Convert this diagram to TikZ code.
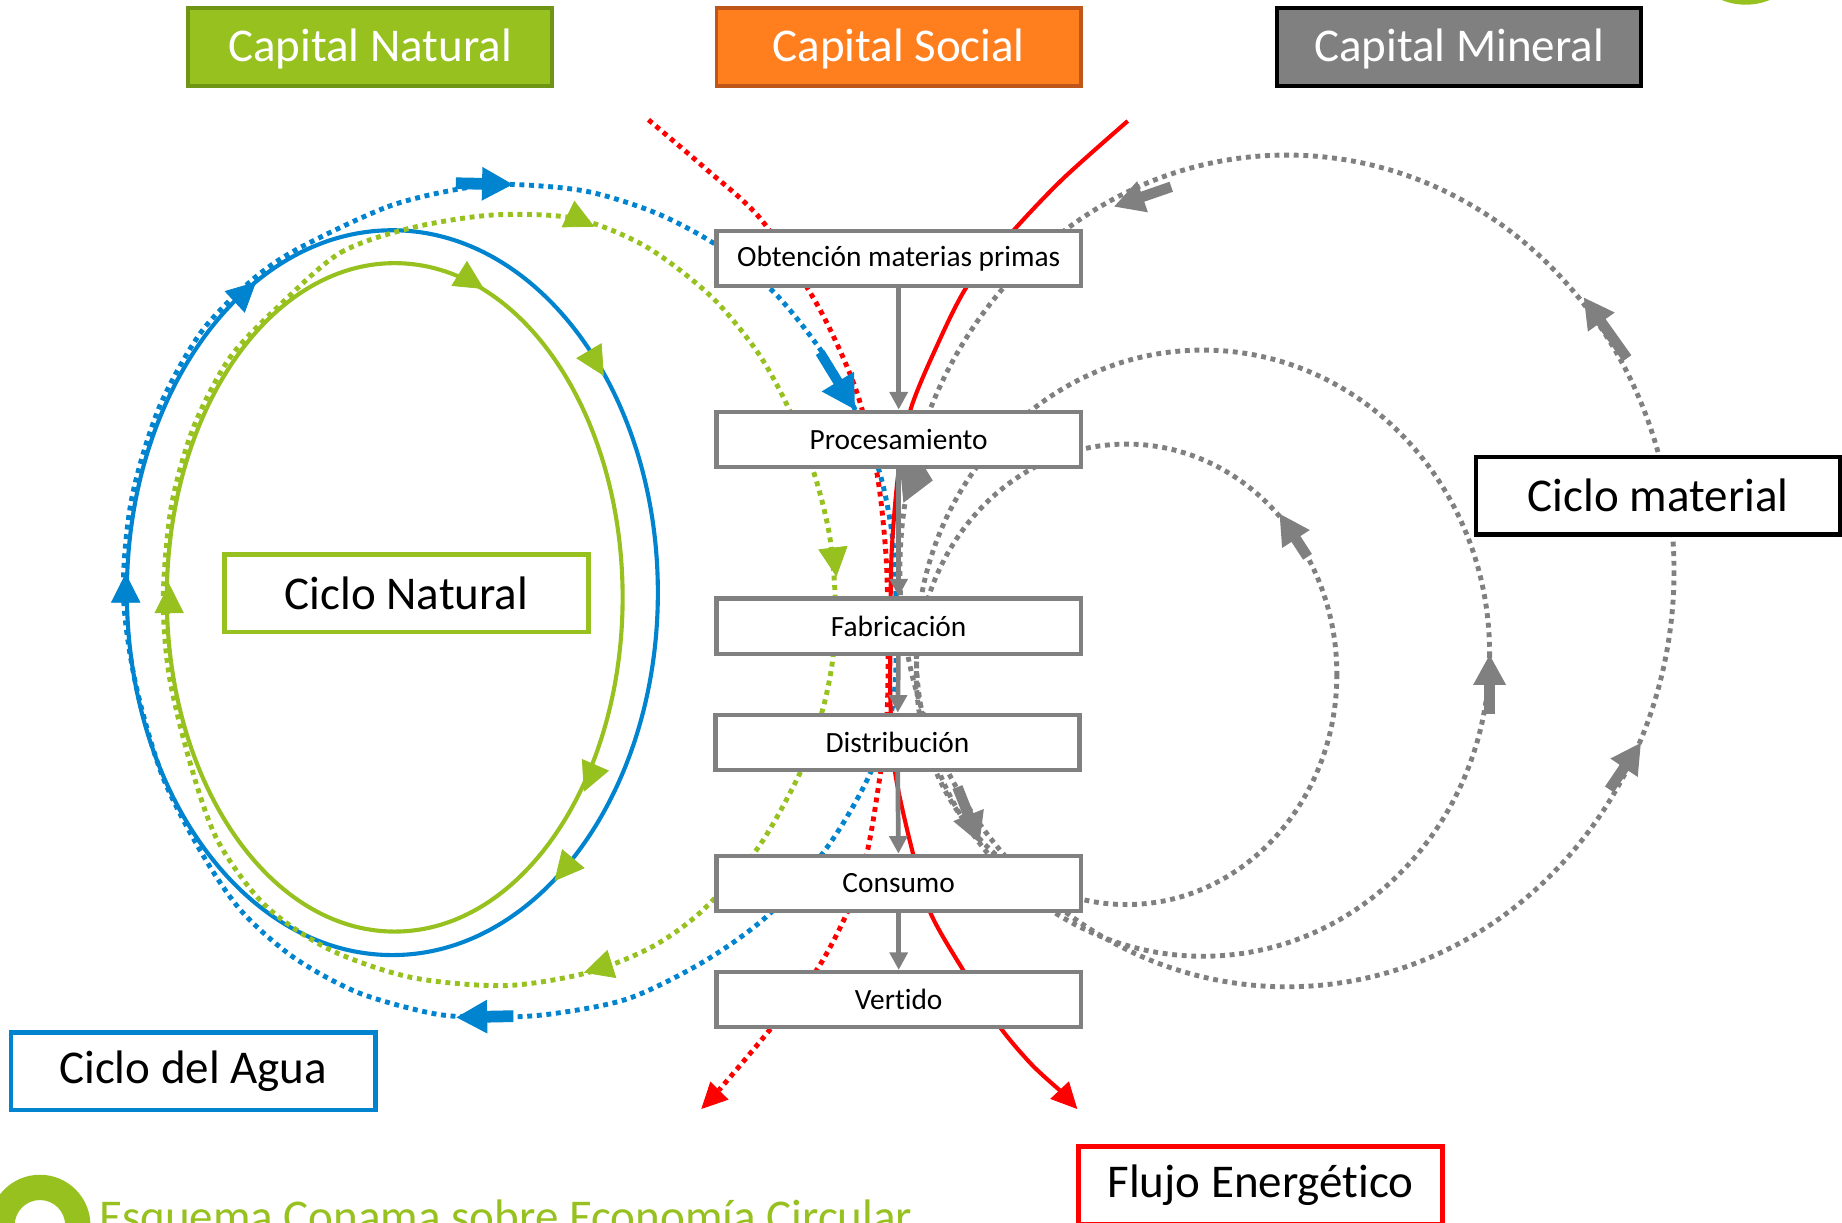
\documentclass[tikz,border=0pt]{standalone}
\usepackage{fontspec}
\setmainfont{Carlito}[Ligatures={NoCommon,NoRare}]
\usetikzlibrary{arrows.meta}
\definecolor{verdenat}{RGB}{150,193,31}
\definecolor{verdeborde}{RGB}{110,150,20}
\definecolor{naranja}{RGB}{255,126,30}
\definecolor{naranjaborde}{RGB}{190,85,25}
\definecolor{gris}{RGB}{128,128,128}
\definecolor{azul}{RGB}{0,132,207}
\definecolor{rojo}{RGB}{255,0,0}

\begin{document}
\begin{tikzpicture}[x=0.6pt,y=-0.6pt,
    caja/.style={draw=gris,line width=2.2pt,fill=white,minimum width=186pt,minimum height=28.2pt,inner sep=0pt,font=\fontsize{15}{18}\selectfont},
    titulo/.style={line width=1.8pt,minimum width=186pt,minimum height=39.6pt,inner sep=0pt,text depth=1.5pt,text=white,font=\fontsize{24}{28}\selectfont},
    ciclo/.style={line width=2.3pt,fill=white,minimum width=186pt,minimum height=39.6pt,inner sep=0pt,font=\fontsize{24}{28}\selectfont},
    punteado/.style={line width=2.5pt,dash pattern=on 2.5pt off 2.4pt},
    punta/.style={line width=0.4pt,-{Triangle[length=15pt,width=15pt]}},
    puntaroja/.style={rojo,line width=0.4pt,-{Triangle[length=13.2pt,width=13pt]}},
    flechagruesa/.style={line width=5.4pt,-{Triangle[length=15.6pt,width=15.6pt]}},
    paso/.style={draw=gris,line width=2.4pt,-{Triangle[length=9pt,width=9pt]}}]
    \useasboundingbox (0,0) rectangle (1568,1041);
    \clip (0,0) rectangle (1568,1041);
    \fill[white] (0,0) rectangle (1568,1041);
    % logos
    \fill[verdenat] (1486,-50) circle (54);
    \fill[verdenat,even odd rule] (34,1043) circle (43) (34,1043) circle (21.5);
    % ciclo natural y ciclo del agua
    \draw[azul,line width=2.1pt] (334,504.5) ellipse [x radius=226,y radius=308.5];
    \draw[verdenat,line width=2.1pt] (336,508.5) ellipse [x radius=194,y radius=284.5];
    \draw[azul,punteado] plot[smooth cycle] coordinates {(255,211) (330,176) (390,161) (435,157) (500,163) (560,182) (612,210) (660,250) (700,300) (728,349) (749,403) (760,460) (763,530) (760,600) (740,660) (705,720) (655,778) (600,818) (535,850) (470,863) (420,866) (370,863) (305,845) (250,815) (205,775) (171,725) (138,660) (115,580) (105,504) (112,425) (135,348) (171,283) (215,238)};
    \draw[verdenat,punteado] plot[smooth cycle] coordinates {(240,258) (290,215) (350,194) (420,183) (490,186) (550,210) (605,252) (645,300) (672,349) (693,403) (706,455) (711,510) (709,560) (700,605) (681,658) (645,722) (598,775) (555,806) (500,828) (430,839) (350,832) (280,808) (225,770) (185,715) (162,650) (144,575) (139,508) (146,430) (165,363) (196,304)};
    % flujo energetico
    \draw[rojo,punteado] plot[smooth] coordinates {(552,102) (600,143) (648,187) (696,260) (728,330) (746,400) (754,470) (756,540) (755,610) (749,661) (738,726) (721,777) (695,826) (655,877) (612,928)};
    \draw[rojo,line width=2.1pt] plot[smooth] coordinates {(960,103) (905,152) (862,197) (823,244) (795,300) (775,349) (765,400) (759,470) (758,540) (758,600) (762,658) (777,726) (792,777) (820,826) (851,874) (878,906) (902,928)};
    % ciclo material
    \draw[gris,punteado] (959,574) ellipse [x radius=179,y radius=196];
    \draw[gris,punteado] (1024,556) ellipse [x radius=244,y radius=258];
    \draw[gris,punteado] (1095.5,486) ellipse [x radius=329.5,y radius=354];
    % puntas de flecha
    \draw[verdenat,punta] (483.5,182.2) -- (506,193);
    \draw[verdenat,punta] (709,466) -- (712,491);
    \draw[verdenat,punta] (521,820.5) -- (497,828);
    \draw[verdenat,punta] (144,522) -- (144,497);
    \draw[verdenat,punta] (390.8,232.7) -- (412,246);
    \draw[verdenat,punta] (501.3,298.5) -- (514,320);
    \draw[verdenat,punta] (506.9,651) -- (497,674);
    \draw[verdenat,punta] (488,731) -- (472,750);
    \draw[azul,punta] (107,513) -- (107,488);
    \draw[azul,punta] (199.8,257) -- (218,240);
    \draw[azul,line width=6pt,-{Triangle[length=16pt,width=16pt]}] (388,156) -- (437,157);
    \draw[azul,line width=5pt,-{Triangle[length=17pt,width=18pt]}] (698,300) -- (728,349);
    \draw[azul,line width=6pt,-{Triangle[length=16pt,width=16pt]}] (437,865) -- (388,866);
    \draw[puntaroja] (612.4,928.4) -- (597,944);
    \draw[puntaroja] (902,928) -- (917,944);
    \draw[gris,flechagruesa] (997,159) -- (948,176);
    \draw[gris,flechagruesa] (1385,305) -- (1348,253);
    \draw[gris,flechagruesa] (1370,672) -- (1397,632);
    \draw[gris,flechagruesa] (815,670) -- (834,718);
    \draw[gris,flechagruesa] (1268,608) -- (1268,557);
    \draw[gris,flechagruesa] (1113,474) -- (1089,437);
    \fill[gris] (766,396) -- (786,396) -- (794,409) -- (769,428) -- cycle;
    % cajas
    \node[titulo,draw=verdeborde,fill=verdenat] (capnat) at (315,40) {Capital Natural};
    \node[titulo,draw=naranjaborde,fill=naranja] (capsoc) at (765,40) {Capital Social};
    \node[titulo,draw=black,fill=gris] (capmin) at (1242,40) {Capital Mineral};
    \node[caja] (obtencion) at (765,220) {Obtención materias primas};
    \node[caja] (procesamiento) at (765,374) {Procesamiento};
    \node[caja] (fabricacion) at (765,533) {Fabricación};
    \node[caja] (distribucion) at (764,632) {Distribución};
    \node[caja] (consumo) at (765,752) {Consumo};
    \node[caja] (vertido) at (765,851) {Vertido};
    \node[ciclo,draw=verdenat] (ciclonat) at (346,505) {Ciclo Natural};
    \node[ciclo,draw=black] (ciclomat) at (1411.5,422) {Ciclo material};
    \node[ciclo,draw=azul] (cicloagua) at (164.5,912) {Ciclo del Agua};
    \node[ciclo,draw=rojo] (flujo) at (1073,1009) {Flujo Energético};
    \draw[paso] (obtencion) -- (procesamiento);
    \draw[paso] (procesamiento) -- (fabricacion);
    \draw[paso] (fabricacion) -- (distribucion);
    \draw[paso] (distribucion) -- (consumo);
    \draw[paso] (consumo) -- (vertido);
    \node[anchor=base west,inner sep=0pt,text=verdenat,font=\fontsize{24}{28}\selectfont] (pie) at (84,1049) {Esquema Conama sobre Economía Circular};
\end{tikzpicture}
\end{document}
